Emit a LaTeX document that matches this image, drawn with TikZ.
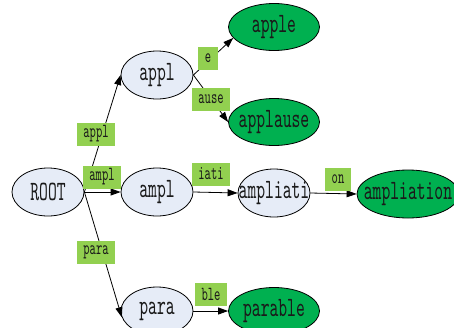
\documentclass[tikz,border=0pt]{standalone}
\usepackage{fontspec}
\usepackage{xcolor}
\usepackage{tikz}
\usetikzlibrary{arrows.meta, shapes.geometric}
\newfontfamily\triefont[FakeStretch=0.6]{lmmono10-regular.otf}
\definecolor{nodebg}{HTML}{E6ECF7}
\definecolor{leafbg}{HTML}{00B050}
\definecolor{labelbg}{HTML}{92D050}
\definecolor{inktext}{HTML}{1A1A1A}
\newcommand{\ctr}[1]{\makebox[0pt]{#1}}

\begin{document}
\begin{tikzpicture}[x=1pt, y=-1pt,
    state/.style={ellipse, draw=black, fill=nodebg, line width=0.8pt,
                  minimum width=72pt, minimum height=48pt, inner sep=0pt,
                  text=inktext, font=\triefont\fontsize{28}{28}\selectfont},
    leaf/.style={state, fill=leafbg, minimum width=91pt, minimum height=47pt},
    edgelabel/.style={rectangle, fill=labelbg, inner xsep=6.5pt, inner ysep=0pt,
                      minimum height=23pt, text=inktext,
                      font=\triefont\fontsize{20}{20}\selectfont},
    arrow/.style={-{Triangle[length=10pt, width=7pt]}, line width=0.8pt}
  ]
    \useasboundingbox (0,0) rectangle (454,327);

    % Nodes
    \node[state] (root) at (48,192) {\ctr{ROOT}};
    \node[state] (appl) at (157,75) {\ctr{appl}};
    \node[state] (ampl) at (157,192) {\ctr{ampl}};
    \node[state] (para) at (157,311) {\ctr{para}};
    \node[state] (ampliati) at (274,193) {\ctr{ampliati}};
    \node[leaf] (apple) at (274,27) {\ctr{apple}};
    \node[leaf] (applause) at (274,122) {\ctr{applause}};
    \node[leaf] (parable) at (274,311) {\ctr{parable}};
    \node[leaf, minimum width=102pt, minimum height=48pt] (ampliation) at (408,194)
      {\ctr{ampliation}};

    % Edges
    \draw[arrow] (root.east) -- (appl.west);
    \draw[arrow] (root.east) -- (ampl.west);
    \draw[arrow] (root.east) -- (para.190);
    \draw[arrow] (appl.east) -- (apple.195);
    \draw[arrow] (appl.east) -- (applause.west);
    \draw[arrow] (ampl.east) -- (ampliati.west);
    \draw[arrow] (ampliati.east) -- (ampliation.west);
    \draw[arrow] (para.east) -- (parable.west);

    % Edge labels
    \node[edgelabel] (lbl-appl) at (96,134) {appl};
    \node[edgelabel] (lbl-ampl) at (102,177) {ampl};
    \node[edgelabel] (lbl-para) at (96,252) {para};
    \node[edgelabel] (lbl-e) at (208,58) {e};
    \node[edgelabel] (lbl-ause) at (211,99) {ause};
    \node[edgelabel] (lbl-iati) at (211,174) {iati};
    \node[edgelabel] (lbl-on) at (338,179) {on};
    \node[edgelabel] (lbl-ble) at (211,294) {ble};
  \end{tikzpicture}
\end{document}
